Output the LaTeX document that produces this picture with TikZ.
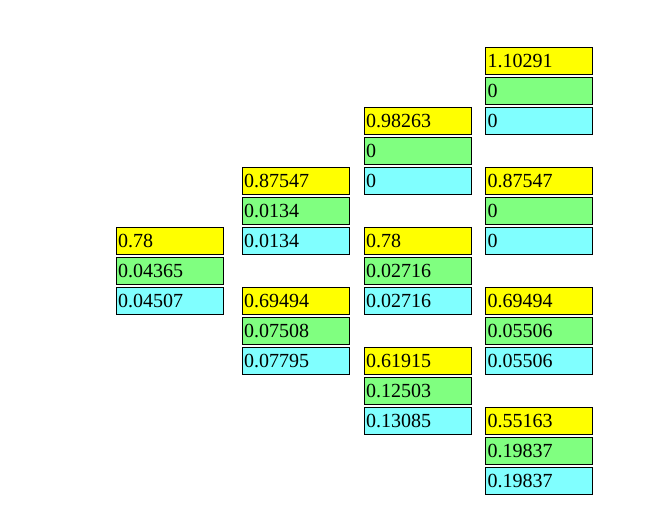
\documentclass[tikz,border=0pt]{standalone}
\usepackage{fontspec}
\setmainfont{Liberation Serif}
\definecolor{cy}{HTML}{FFFF00}
\definecolor{cg}{HTML}{80FF80}
\definecolor{cc}{HTML}{80FFFF}
\tikzset{
  cell/.style={draw=black, line width=0.75pt, anchor=north west, minimum width=80.25pt, minimum height=20.25pt, inner sep=0pt, outer sep=0pt},
  celltext/.style={anchor=base west, inner sep=0pt, font=\fontsize{15pt}{17pt}\selectfont}
}
\newcommand{\trio}[5]{%
  \node[cell, fill=cy] (#1y) at (#2,#3) {};
  \node[celltext] (#1yt) at ($(#1y.north west)+(1.5,-20.3)$) {#4};
}
\usetikzlibrary{calc}
\begin{document}
\begin{tikzpicture}[x=0.75pt,y=-0.75pt]
\useasboundingbox (0,0) rectangle (667,519);
\newcommand{\bx}[5]{%
  \node[cell, fill=#4] (#1) at (#2,#3) {};
  \node[celltext] (#1t) at ($(#1.north west)+(1.8,20.6)$) {#5};
}
% column 1
\bx{a1}{116}{227.3}{cy}{0.78}
\bx{a2}{116}{257.3}{cg}{0.04365}
\bx{a3}{116}{287.3}{cc}{0.04507}
% column 2
\bx{b1}{242}{167.3}{cy}{0.87547}
\bx{b2}{242}{197.3}{cg}{0.0134}
\bx{b3}{242}{227.3}{cc}{0.0134}
\bx{b4}{242}{287.3}{cy}{0.69494}
\bx{b5}{242}{317.3}{cg}{0.07508}
\bx{b6}{242}{347.3}{cc}{0.07795}
% column 3
\bx{c1}{364}{107.3}{cy}{0.98263}
\bx{c2}{364}{137.3}{cg}{0}
\bx{c3}{364}{167.3}{cc}{0}
\bx{c4}{364}{227.3}{cy}{0.78}
\bx{c5}{364}{257.3}{cg}{0.02716}
\bx{c6}{364}{287.3}{cc}{0.02716}
\bx{c7}{364}{347.3}{cy}{0.61915}
\bx{c8}{364}{377.3}{cg}{0.12503}
\bx{c9}{364}{407.3}{cc}{0.13085}
% column 4
\bx{d1}{485.5}{47.3}{cy}{1.10291}
\bx{d2}{485.5}{77.3}{cg}{0}
\bx{d3}{485.5}{107.3}{cc}{0}
\bx{d4}{485.5}{167.3}{cy}{0.87547}
\bx{d5}{485.5}{197.3}{cg}{0}
\bx{d6}{485.5}{227.3}{cc}{0}
\bx{d7}{485.5}{287.3}{cy}{0.69494}
\bx{d8}{485.5}{317.3}{cg}{0.05506}
\bx{d9}{485.5}{347.3}{cc}{0.05506}
\bx{d10}{485.5}{407.3}{cy}{0.55163}
\bx{d11}{485.5}{437.3}{cg}{0.19837}
\bx{d12}{485.5}{467.3}{cc}{0.19837}
\end{tikzpicture}
\end{document}
